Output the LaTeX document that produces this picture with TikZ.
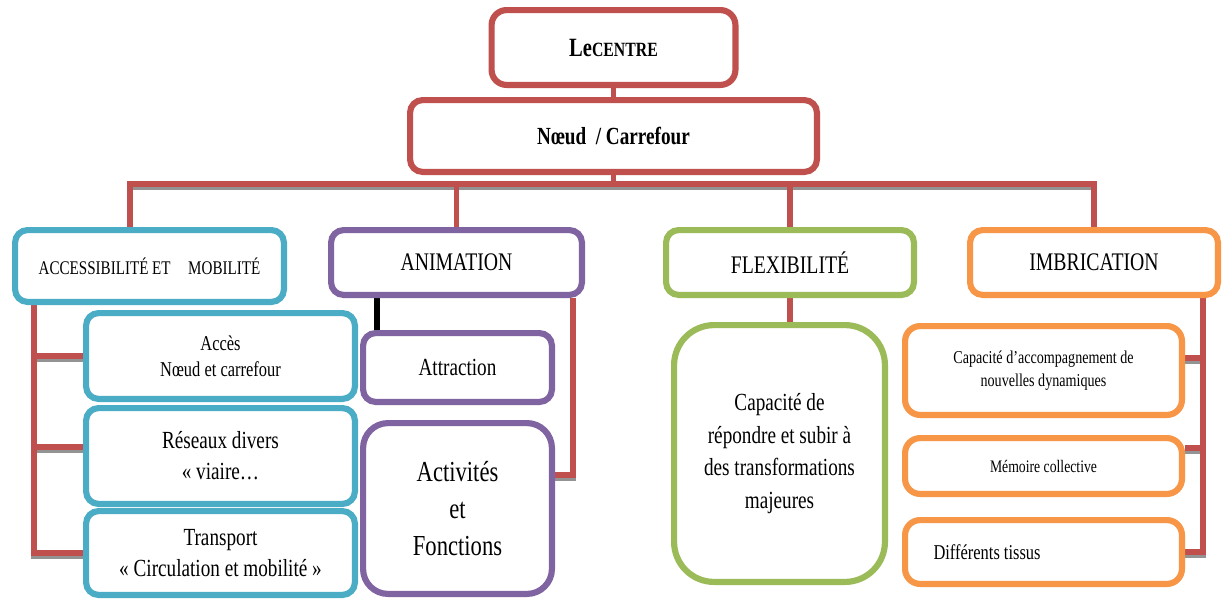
\documentclass[tikz,border=0pt]{standalone}
\usepackage{fontspec}
\setmainfont[FakeStretch=0.78]{Liberation Serif}
\usetikzlibrary{backgrounds}
\definecolor{boxred}{HTML}{C0504D}
\definecolor{boxcyan}{HTML}{4BACC6}
\definecolor{boxpurple}{HTML}{8064A2}
\definecolor{boxgreen}{HTML}{9BBB59}
\definecolor{boxorange}{HTML}{F79646}
\begin{document}
\begin{tikzpicture}[x=0.2mm, y=-0.2mm,
		cadre/.style={draw=#1, line width=3.5pt, fill=white, rounded corners=2.5mm, align=center, inner sep=2pt},
		wh/.style 2 args={minimum width=#1*0.2mm-3.5pt, minimum height=#2*0.2mm-3.5pt},
		link/.style={draw=boxred, line width=3pt, preaction={draw=gray!85, line width=3pt, transform canvas={yshift=-1.8pt}}}]
	\useasboundingbox (0,0) rectangle (1223,601);

	\node[cadre=boxred, wh={250}{81}, rounded corners=3mm, font=\fontsize{15}{18}\selectfont\bfseries] (centre) at (613.5,47.5) {Le{\fontsize{11.5}{14}\selectfont CENTRE}};
	\node[cadre=boxred, wh={413}{78}, font=\fontsize{14}{17}\selectfont\bfseries] (noeud) at (613.5,136) {Nœud\ \ / Carrefour};

	\node[cadre=boxcyan, wh={275}{78}, font=\fontsize{11}{13}\selectfont] (acc) at (149.5,266) {ACCESSIBILITÉ ET\hspace{10pt}MOBILITÉ};
	\node[cadre=boxpurple, wh={257}{71}, font=\fontsize{14.4}{17}\selectfont] (anim) at (456.5,262.5) {ANIMATION};
	\node[cadre=boxgreen, wh={254}{71}, font=\fontsize{14.4}{17}\selectfont] (flex) at (790,262.5) {FLEXIBILITÉ};
	\node[cadre=boxorange, wh={254}{71}, font=\fontsize{14.4}{17}\selectfont] (imbr) at (1094,262.5) {IMBRICATION};

	\node[cadre=boxcyan, wh={275}{92}, font=\fontsize{12}{14.8}\selectfont] (acces) at (220.5,356) {Accès\\Nœud et carrefour};
	\node[cadre=boxcyan, wh={275}{102}, font=\fontsize{14}{17.6}\selectfont] (reseau) at (220.5,456) {Réseaux divers\\« viaire…};
	\node[cadre=boxcyan, wh={275}{90}, font=\fontsize{14}{18}\selectfont] (transp) at (220.5,553) {Transport\\« Circulation et mobilité »};

	\node[cadre=boxpurple, wh={195}{75}, font=\fontsize{14}{17}\selectfont] (attr) at (457.5,367.5) {Attraction};
	\node[cadre=boxpurple, wh={195}{177}, rounded corners=5mm, font=\fontsize{16.5}{21}\selectfont] (activ) at (457.5,508.5) {Activités\\et\\Fonctions};

	\node[cadre=boxgreen, wh={217}{263}, rounded corners=8mm, font=\fontsize{14}{18.5}\selectfont] (capa) at (779.5,453.5) {Capacité de\\répondre et subir à\\des transformations\\majeures};

	\node[cadre=boxorange, wh={283}{95}, rounded corners=3mm, font=\fontsize{10.3}{13}\selectfont] (dyn) at (1043.5,370.5) {Capacité d’accompagnement de\\nouvelles dynamiques};
	\node[cadre=boxorange, wh={283}{62}, rounded corners=3mm, font=\fontsize{10}{12}\selectfont] (mem) at (1043.5,466) {Mémoire collective};
	\node[cadre=boxorange, wh={283}{70}, rounded corners=3mm, font=\fontsize{12}{14}\selectfont] (tissu) at (1043.5,552) {\makebox[44mm][l]{Différents tissus}};

	\path ([xshift=-3.9mm]acc.north) coordinate (acchaut)
		([xshift=4.4mm]acc.south west) coordinate (accbas)
		([xshift=9.8mm]anim.south west) coordinate (noir)
		([xshift=-2.4mm]anim.south east) coordinate (animdroite)
		([xshift=-3.6mm]imbr.south east) coordinate (imbrdroite);
	\coordinate (bus) at (613.5,184);

	\begin{scope}[on background layer]
		\fill[white] (0,0) rectangle (1223,601);
		\draw[link] (centre) -- (noeud);
		\draw[link] (noeud) -- (bus);
		\draw[link] (acchaut) |- (bus) -| (imbr.north);
		\draw[link] (anim) -- (anim |- bus);
		\draw[link] (flex) -- (flex |- bus);

		\draw[link] (accbas) |- (acces.west);
		\draw[link] (accbas) |- ([yshift=1.8mm]reseau.west);
		\draw[link] (accbas) |- (transp.west);

		\draw[line width=3.5pt] (noir) -- (noir |- attr.north);
		\draw[link] (animdroite) |- ([yshift=6.7mm]activ.east);

		\draw[link] (flex) -- (flex |- capa.north);

		\draw[link] (imbrdroite) |- ([yshift=2.5mm]dyn.east);
		\draw[link] (imbrdroite) |- ([yshift=3.6mm]mem.east);
		\draw[link] (imbrdroite) |- (tissu.east);
	\end{scope}
\end{tikzpicture}
\end{document}
